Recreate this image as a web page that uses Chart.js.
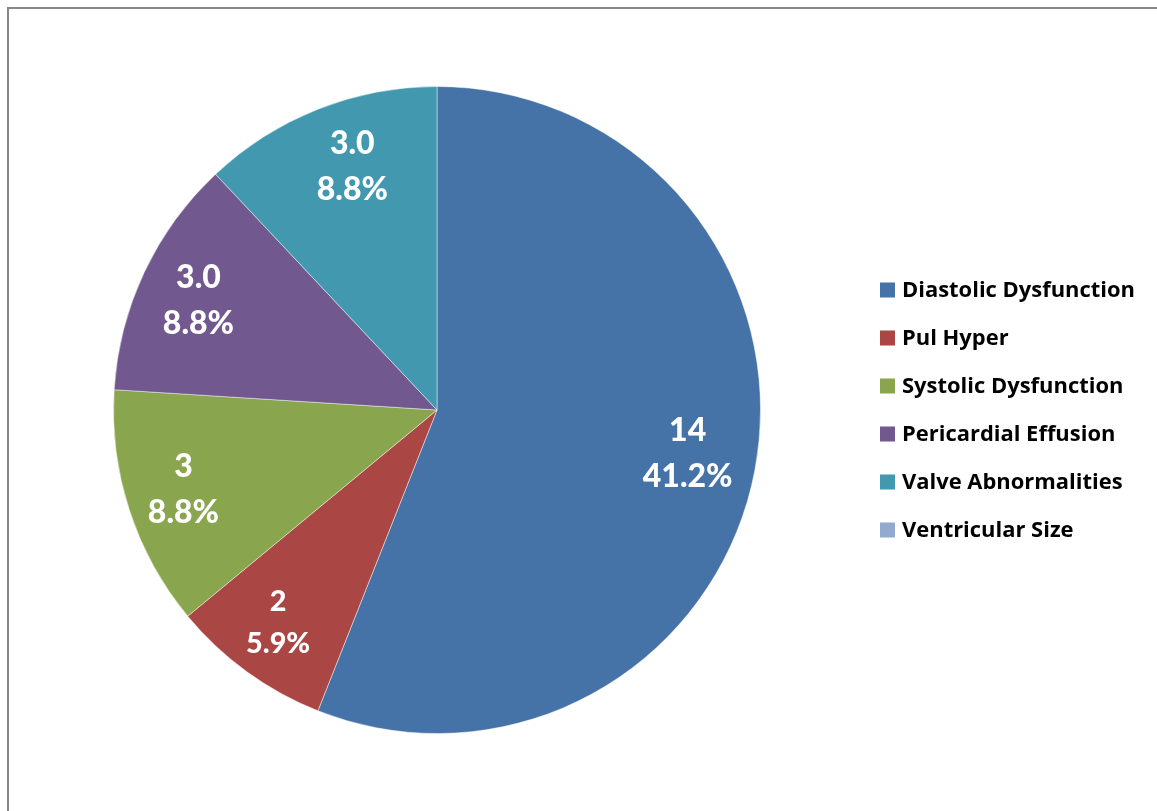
<!DOCTYPE html>
<html>
<head>
<meta charset="utf-8">
<script src="https://cdn.jsdelivr.net/npm/chart.js@4/dist/chart.umd.min.js"></script>
<style>
  html, body { margin: 0; padding: 0; background: #fff; overflow: hidden; }
  #wrap { position: absolute; left: 0; top: 0; width: 1157px; height: 811px; }
  #frame { position: absolute; left: 7px; top: 7px; width: 1148px; height: 810px;
           border-top: 2px solid #878787; border-left: 2px solid #878787; pointer-events: none; }
</style>
</head>
<body>
<div id="wrap"><canvas id="c"></canvas></div>
<div id="frame"></div>
<script>
// Findings by category
const categories = [
  'Diastolic Dysfunction',
  'Pul Hyper',
  'Systolic Dysfunction',
  'Pericardial Effusion',
  'Valve Abnormalities',
  'Ventricular Size'
];
const counts = [14, 2, 3, 3, 3, 0];
const countLabels = ['14', '2', '3', '3.0', '3.0', ''];
const percentLabels = ['41.2%', '5.9%', '8.8%', '8.8%', '8.8%', ''];
const sliceColors = ['#4572A7', '#AA4643', '#89A54E', '#71588F', '#4198AF', '#93A9CF'];

const LABEL_FONT = 'Lato, "Open Sans", sans-serif';
const LEGEND_FONT = '"Open Sans", Lato, sans-serif';

// Per-slice label placement: radius as a fraction of the pie radius,
// a small angular nudge (degrees) and a text scale for narrow slices.
const labelPlacement = [
  { r: 0.786, nudge: -1.1, scale: 1 },
  { r: 0.818, nudge: 0.9, scale: 0.9 },
  { r: 0.821, nudge: 0.7, scale: 1 },
  { r: 0.813, nudge: -0.3, scale: 1 },
  { r: 0.800, nudge: 2.5, scale: 1 },
  { r: 0.8, nudge: 0, scale: 1 }
];

// Two-line value / percent labels inside each slice
const sliceLabels = {
  id: 'sliceLabels',
  afterDatasetsDraw(chart) {
    const ctx = chart.ctx;
    const meta = chart.getDatasetMeta(0);
    ctx.save();
    ctx.fillStyle = '#ffffff';
    ctx.textAlign = 'center';
    ctx.textBaseline = 'middle';
    meta.data.forEach((arc, i) => {
      const p = arc.getProps(['x', 'y', 'startAngle', 'endAngle', 'outerRadius'], true);
      if (p.endAngle - p.startAngle <= 0) return;
      const place = labelPlacement[i];
      const mid = (p.startAngle + p.endAngle) / 2 + place.nudge * Math.PI / 180;
      const r = p.outerRadius * place.r;
      const cx = p.x + Math.cos(mid) * r;
      const cy = p.y + Math.sin(mid) * r;
      const size = 32 * place.scale;
      const gap = 23 * place.scale;
      ctx.font = '900 ' + size + 'px ' + LABEL_FONT;
      ctx.fillText(countLabels[i], cx, cy - gap + 1);
      ctx.fillText(percentLabels[i], cx, cy + gap + 1);
    });
    ctx.restore();
  }
};

// Legend list on the right side
const sideLegend = {
  id: 'sideLegend',
  afterDraw(chart) {
    const ctx = chart.ctx;
    const labels = chart.data.labels;
    const colors = chart.data.datasets[0].backgroundColor;
    const boxX = 880, textX = 902, firstY = 290, step = 48, box = 15;
    ctx.save();
    // size the text so the longest entry ends near the right margin
    let size = 20;
    ctx.font = 'bold ' + size + 'px ' + LEGEND_FONT;
    const widest = Math.max(...labels.map(l => ctx.measureText(l).width));
    size = size * 233 / widest;
    ctx.font = 'bold ' + size.toFixed(2) + 'px ' + LEGEND_FONT;
    ctx.textAlign = 'left';
    ctx.textBaseline = 'middle';
    labels.forEach((lab, i) => {
      const y = firstY + i * step;
      ctx.fillStyle = colors[i];
      ctx.fillRect(boxX, y - box / 2, box, box);
      ctx.fillStyle = '#000000';
      ctx.fillText(lab, textX, y + 1);
    });
    ctx.restore();
  }
};

new Chart(document.getElementById('c'), {
  type: 'pie',
  data: {
    labels: categories,
    datasets: [{
      data: counts,
      backgroundColor: sliceColors,
      borderColor: 'rgba(255,255,255,0.45)',
      borderWidth: 1
    }]
  },
  options: {
    responsive: true,
    maintainAspectRatio: false,
    animation: false,
    layout: { padding: { left: 113, top: 86, right: 396, bottom: 77 } },
    plugins: {
      legend: { display: false },
      tooltip: { enabled: false }
    }
  },
  plugins: [sliceLabels, sideLegend]
});
</script>
</body>
</html>
